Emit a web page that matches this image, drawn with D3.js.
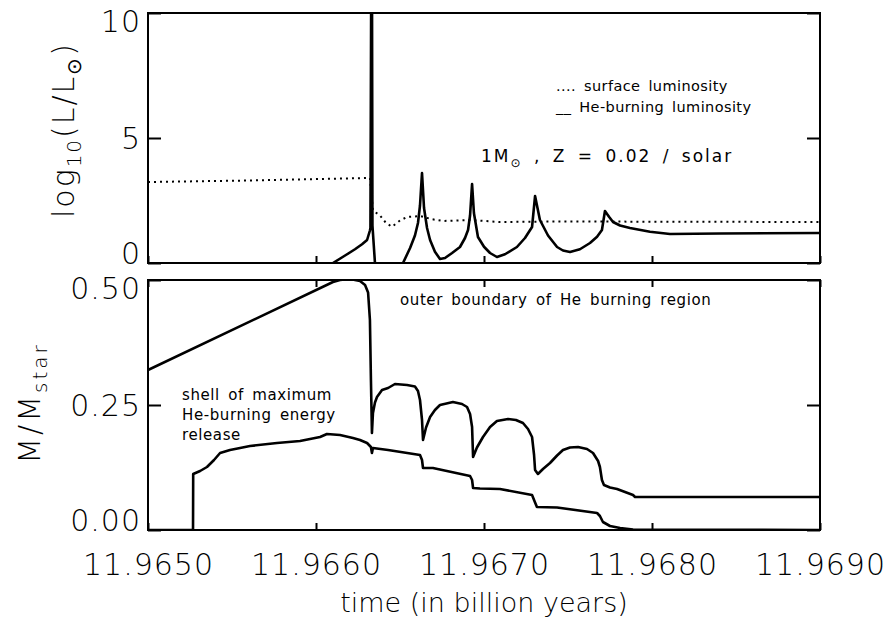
<!DOCTYPE html>
<html>
<head>
<meta charset="utf-8">
<script src="https://cdn.jsdelivr.net/npm/d3@7"></script>
<style>
  body { margin: 0; background: #fff; }
  text { font-family: "DejaVu Sans", sans-serif; fill: #000; }
  .big { font-size: 30px; font-weight: 200; letter-spacing: 1px; }
  .note { font-size: 15px; letter-spacing: 0.6px; word-spacing: 3px; }
</style>
</head>
<body>
<div id="main"></div>
<script>
// axis ticks
var timeTicks = [11.9650, 11.9660, 11.9670, 11.9680, 11.9690];
var lumTicks = [0, 5, 10];
var massTicks = [0, 0.25, 0.5];

// [time (Gyr), log10(L/Lsun)]
var surfaceLum = [
  [11.965000, 3.24], [11.965607, 3.30], [11.966321, 3.40], [11.966327, 3.0],
  [11.966339, 2.10], [11.966381, 1.90], [11.966417, 1.60], [11.966452, 1.45],
  [11.966500, 1.70], [11.966542, 1.84], [11.966619, 1.88], [11.966690, 1.75],
  [11.966756, 1.68], [11.966917, 1.72], [11.967095, 1.64], [11.967452, 1.66],
  [11.969000, 1.64]
];

var heBurningLum = [
  [11.966101, 0.00], [11.966173, 0.30], [11.966232, 0.55], [11.966274, 0.75],
  [11.966304, 0.92], [11.966321, 1.30], [11.966324, 1.40], [11.966329, 12.0],
  [11.966333, 12.0], [11.966336, 1.50], [11.966351, 0.00], [11.966363, -3.0],
  [11.966500, -3.0], [11.966518, 0.00], [11.966560, 0.60], [11.966589, 1.10],
  [11.966607, 1.60], [11.966619, 2.30], [11.966631, 3.60], [11.966643, 2.20],
  [11.966661, 1.40], [11.966679, 0.92], [11.966708, 0.45], [11.966738, 0.16],
  [11.966768, 0.20], [11.966810, 0.40], [11.966857, 0.64], [11.966887, 1.00],
  [11.966905, 1.32], [11.966917, 1.90], [11.966929, 3.16], [11.966940, 2.00],
  [11.966964, 1.04], [11.967000, 0.65], [11.967036, 0.40], [11.967077, 0.24],
  [11.967125, 0.35], [11.967196, 0.64], [11.967244, 1.00], [11.967286, 1.44],
  [11.967304, 2.68], [11.967333, 1.72], [11.967381, 1.10], [11.967435, 0.64],
  [11.967470, 0.50], [11.967512, 0.44], [11.967571, 0.55], [11.967631, 0.80],
  [11.967673, 1.05], [11.967702, 1.32], [11.967720, 2.08], [11.967744, 1.85],
  [11.967768, 1.64], [11.967810, 1.50], [11.967869, 1.40], [11.967988, 1.25],
  [11.968107, 1.16], [11.968405, 1.18], [11.969000, 1.20]
];

// [time (Gyr), M/Mstar]
var outerBoundary = [
  [11.965000, 0.320], [11.966101, 0.496], [11.966143, 0.500], [11.966202, 0.502],
  [11.966262, 0.498], [11.966292, 0.490], [11.966310, 0.475], [11.966321, 0.420],
  [11.966327, 0.300], [11.966333, 0.194], [11.966339, 0.234], [11.966351, 0.255],
  [11.966363, 0.266], [11.966393, 0.280], [11.966429, 0.284], [11.966470, 0.292],
  [11.966542, 0.290], [11.966589, 0.287], [11.966607, 0.278], [11.966619, 0.260],
  [11.966631, 0.220], [11.966637, 0.180], [11.966655, 0.205], [11.966679, 0.226],
  [11.966708, 0.240], [11.966738, 0.250], [11.966815, 0.256], [11.966869, 0.252],
  [11.966899, 0.246], [11.966917, 0.232], [11.966929, 0.206], [11.966935, 0.146],
  [11.966958, 0.165], [11.966994, 0.186], [11.967036, 0.206], [11.967077, 0.218],
  [11.967143, 0.222], [11.967190, 0.220], [11.967232, 0.214], [11.967262, 0.202],
  [11.967286, 0.186], [11.967298, 0.150], [11.967304, 0.120], [11.967321, 0.112],
  [11.967351, 0.122], [11.967393, 0.134], [11.967435, 0.149], [11.967470, 0.160],
  [11.967512, 0.165], [11.967560, 0.166], [11.967613, 0.162], [11.967649, 0.154],
  [11.967679, 0.138], [11.967690, 0.126], [11.967702, 0.100], [11.967714, 0.090],
  [11.967750, 0.085], [11.967792, 0.082], [11.967887, 0.070], [11.967899, 0.066],
  [11.969000, 0.066]
];

var shellMaxRelease = [
  [11.965000, 0.000], [11.965268, 0.000], [11.965269, 0.112], [11.965310, 0.118],
  [11.965351, 0.126], [11.965393, 0.140], [11.965429, 0.154], [11.965488, 0.160],
  [11.965548, 0.164], [11.965607, 0.168], [11.965768, 0.174], [11.965905, 0.178],
  [11.966024, 0.186], [11.966065, 0.192], [11.966143, 0.190], [11.966220, 0.184],
  [11.966262, 0.180], [11.966304, 0.174], [11.966327, 0.166], [11.966333, 0.154],
  [11.966339, 0.164], [11.966429, 0.160], [11.966619, 0.150], [11.966631, 0.140],
  [11.966637, 0.124], [11.966696, 0.124], [11.966917, 0.108], [11.966929, 0.100],
  [11.966935, 0.084], [11.966976, 0.083], [11.967095, 0.082], [11.967286, 0.070],
  [11.967304, 0.055], [11.967315, 0.046], [11.967435, 0.045], [11.967673, 0.034],
  [11.967690, 0.028], [11.967708, 0.016], [11.967750, 0.008], [11.967810, 0.004],
  [11.967887, 0.001], [11.969000, 0.000]
];

var W = 890, H = 626;
var left = 148, right = 820;
var topPanel = { y0: 13, y1: 263 };
var botPanel = { y0: 280, y1: 530 };

var svg = d3.select("#main").append("svg")
  .attr("width", W)
  .attr("height", H);

var x = d3.scaleLinear().domain([11.965, 11.969]).range([left, right]);
var yTop = d3.scaleLinear().domain([0, 10]).range([topPanel.y1, topPanel.y0]);
var yBot = d3.scaleLinear().domain([0, 0.5]).range([botPanel.y1, botPanel.y0]);

// clip regions for the two panels
var defs = svg.append("defs");
defs.append("clipPath").attr("id", "clipTop").append("rect")
  .attr("x", left).attr("y", topPanel.y0)
  .attr("width", right - left).attr("height", topPanel.y1 - topPanel.y0);
defs.append("clipPath").attr("id", "clipBot").append("rect")
  .attr("x", left).attr("y", botPanel.y0)
  .attr("width", right - left).attr("height", botPanel.y1 - botPanel.y0);

function drawAxes(y, ticks, panel, fmt, showX) {
  // y axis on the left, ticks inward
  var ax = svg.append("g")
    .attr("transform", "translate(" + left + ",0)")
    .call(d3.axisLeft(y).tickValues(ticks).tickSize(-13).tickSizeOuter(0)
      .tickPadding(7).tickFormat(fmt));
  ax.select(".domain").remove();
  ax.selectAll("line").attr("stroke-width", 2);
  ax.selectAll("text").attr("class", "big").attr("font-size", null)
    .attr("font-family", null)
    .attr("dy", function(d) {
      if (y(d) === panel.y0) return "0.6em";
      if (y(d) === panel.y1) return "0";
      return "0.35em";
    });

  // right side ticks
  var ar = svg.append("g")
    .attr("transform", "translate(" + right + ",0)")
    .call(d3.axisRight(y).tickValues(ticks).tickSize(-13).tickSizeOuter(0)
      .tickFormat(""));
  ar.select(".domain").remove();
  ar.selectAll("line").attr("stroke-width", 2);

  // bottom time ticks
  var ab = svg.append("g")
    .attr("transform", "translate(0," + panel.y1 + ")")
    .call(d3.axisBottom(x).tickValues(timeTicks).tickSize(-7).tickSizeOuter(0)
      .tickPadding(24).tickFormat(showX ? d3.format(".4f") : ""));
  ab.select(".domain").remove();
  ab.selectAll("line").attr("stroke-width", 2);
  ab.selectAll("text").attr("class", "big").attr("font-size", null)
    .attr("font-family", null);

  if (showX) {
    var at = svg.append("g")
      .attr("transform", "translate(0," + panel.y0 + ")")
      .call(d3.axisTop(x).tickValues(timeTicks).tickSize(-7).tickSizeOuter(0)
        .tickFormat(""));
    at.select(".domain").remove();
    at.selectAll("line").attr("stroke-width", 2);
  }

  // frame
  svg.append("rect")
    .attr("x", left).attr("y", panel.y0)
    .attr("width", right - left).attr("height", panel.y1 - panel.y0)
    .attr("fill", "none")
    .attr("stroke", "#000")
    .attr("stroke-width", 2);
}

drawAxes(yTop, lumTicks, topPanel, d3.format("d"), false);
drawAxes(yBot, massTicks, botPanel, d3.format(".2f"), true);

var lineTop = d3.line().x(function(d) { return x(d[0]); }).y(function(d) { return yTop(d[1]); });
var lineBot = d3.line().x(function(d) { return x(d[0]); }).y(function(d) { return yBot(d[1]); });

var gTop = svg.append("g").attr("clip-path", "url(#clipTop)");
gTop.append("path")
  .attr("d", lineTop(surfaceLum))
  .attr("fill", "none")
  .attr("stroke", "#000")
  .attr("stroke-width", 2)
  .attr("stroke-dasharray", "2,4");
gTop.append("path")
  .attr("d", lineTop(heBurningLum))
  .attr("fill", "none")
  .attr("stroke", "#000")
  .attr("stroke-width", 2.6)
  .attr("stroke-linejoin", "round");

var gBot = svg.append("g").attr("clip-path", "url(#clipBot)");
[outerBoundary, shellMaxRelease].forEach(function(s) {
  gBot.append("path")
    .attr("d", lineBot(s))
    .attr("fill", "none")
    .attr("stroke", "#000")
    .attr("stroke-width", 2.6)
    .attr("stroke-linejoin", "round");
});

// annotations
svg.append("text").attr("class", "note").attr("x", 556).attr("y", 91)
  .style("font-size", "14.5px").style("letter-spacing", "0.4px")
  .text(".... surface luminosity");
svg.append("text").attr("class", "note").attr("x", 556).attr("y", 112)
  .style("font-size", "14.5px").style("letter-spacing", "0.4px")
  .text("__ He-burning luminosity");

var star = svg.append("text").attr("class", "note")
  .attr("x", 481).attr("y", 162)
  .style("font-size", "17px").style("letter-spacing", "2px").style("word-spacing", "4px");
star.append("tspan").text("1M");
star.append("tspan").attr("dy", 5).style("font-size", "12px").text("⊙");
star.append("tspan").attr("dy", -5).text(" , Z = 0.02 / solar");

svg.append("text").attr("class", "note").attr("x", 400).attr("y", 305)
  .text("outer boundary of He burning region");
["shell of maximum", "He-burning energy", "release"].forEach(function(t, i) {
  svg.append("text").attr("class", "note").attr("x", 182).attr("y", 400 + i * 20).text(t);
});

// axis titles
var yt1 = svg.append("text").attr("class", "big")
  .attr("text-anchor", "middle")
  .style("letter-spacing", "2px")
  .attr("transform", "translate(74,130) rotate(-90)");
yt1.append("tspan").text("log");
yt1.append("tspan").attr("dy", 7).style("font-size", "20px").text("10");
yt1.append("tspan").attr("dy", -7).text("(L/L");
yt1.append("tspan").attr("dy", 7).style("font-size", "20px").text("⊙");
yt1.append("tspan").attr("dy", -7).text(")");

var yt2 = svg.append("text").attr("class", "big")
  .attr("text-anchor", "middle")
  .style("letter-spacing", "3px")
  .attr("transform", "translate(40,403) rotate(-90)");
yt2.append("tspan").text("M/M");
yt2.append("tspan").attr("dy", 7).style("font-size", "20px").text("star");

svg.append("text").attr("class", "big")
  .attr("x", 484).attr("y", 612)
  .attr("text-anchor", "middle")
  .style("font-size", "27px").style("letter-spacing", "0px")
  .text("time (in billion years)");
</script>
</body>
</html>
